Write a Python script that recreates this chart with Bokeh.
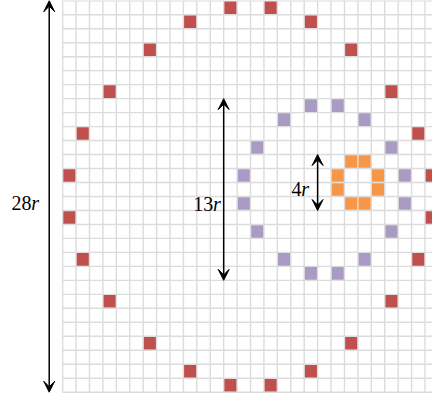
from bokeh.plotting import figure
from bokeh.models import ColumnDataSource, Range1d, Arrow, VeeHead
from bokeh.core.properties import value
from bokeh.embed import file_html
from bokeh.resources import INLINE

# ---- data (grid units: column from left, row from top) ----
grid_cols = 28
grid_rows = 28

red_cols = [12, 15, 9, 18, 6, 21, 3, 24, 1, 26, 0, 27, 0, 27, 1, 26, 3, 24, 6, 21, 9, 18, 12, 15]
red_rows = [0, 0, 1, 1, 3, 3, 6, 6, 9, 9, 12, 12, 15, 15, 18, 18, 21, 21, 24, 24, 26, 26, 27, 27]

purple_cols = [18, 20, 16, 22, 14, 24, 13, 25, 13, 25, 14, 24, 16, 22, 18, 20]
purple_rows = [7, 7, 8, 8, 10, 10, 12, 12, 14, 14, 16, 16, 18, 18, 19, 19]

orange_cols = [21, 22, 20, 23, 20, 23, 21, 22]
orange_rows = [11, 11, 12, 12, 13, 13, 14, 14]

ring_numbers = ["28", "13", "4"]
ring_unit = ["r", "r", "r"]
ring_diameters = [28, 13, 4]
ring_center_rows = [14, 13.5, 13]

# ---- layout (positions / styles) ----
arrow_x = [-1.0, 12.0, 19.0]
label_x = [-1.76, 11.78, 18.36]
label_y = [14.46, 14.52, 13.5]

RED = "#C0504D"
PURPLE = "#A99BC4"
ORANGE = "#F79646"
GRID = "#dcdcdc"
FONT = "Liberation Serif"

W, H = 432, 397
p = figure(width=W, height=H, output_backend="svg", toolbar_location=None,
           x_range=Range1d(-4.63, 27.56), y_range=Range1d(28.38, -0.02),
           min_border=0, min_border_left=0, min_border_right=0,
           min_border_top=0, min_border_bottom=0)
p.axis.visible = False
p.grid.visible = False
p.outline_line_color = None
p.background_fill_color = "white"
p.border_fill_color = "white"

# grid lines
vx = list(range(grid_cols + 1))
p.segment(x0=vx, y0=[0] * len(vx), x1=vx, y1=[grid_rows] * len(vx),
          line_color=GRID, line_width=1.4)
hy = list(range(grid_rows + 1))
p.segment(x0=[0] * len(hy), y0=hy, x1=[grid_cols] * len(hy), y1=hy,
          line_color=GRID, line_width=1.4)

def cells(cols, rows, color):
    src = ColumnDataSource(dict(x=[c + 0.5 for c in cols], y=[r + 0.5 for r in rows]))
    p.rect(x="x", y="y", width=0.9, height=0.9, source=src,
           fill_color=color, line_color=None)

cells(red_cols, red_rows, RED)
cells(purple_cols, purple_rows, PURPLE)
cells(orange_cols, orange_rows, ORANGE)

# dimension arrows
asrc = ColumnDataSource(dict(
    x=arrow_x,
    y0=[c - d / 2 for c, d in zip(ring_center_rows, ring_diameters)],
    y1=[c + d / 2 for c, d in zip(ring_center_rows, ring_diameters)],
))
p.add_layout(Arrow(source=asrc, x_start="x", y_start="y0", x_end="x", y_end="y1",
                   line_color="black", line_width=1.5,
                   start=VeeHead(size=11, fill_color="black", line_color="black", line_width=1),
                   end=VeeHead(size=11, fill_color="black", line_color="black", line_width=1)))

# labels: number upright + italic r
lsrc = ColumnDataSource(dict(x=label_x, y=label_y, num=ring_numbers, unit=ring_unit))
p.text(x="x", y="y", text="unit", source=lsrc, text_font=value(FONT),
       text_font_size="20px", text_font_style="italic", text_align="right",
       text_baseline="alphabetic", text_color="black")
p.text(x="x", y="y", text="num", source=lsrc, text_font=value(FONT),
       text_font_size="20px", text_align="right", x_offset=-7.5,
       text_baseline="alphabetic", text_color="black")

open("out.html", "w").write(file_html(p, INLINE))
